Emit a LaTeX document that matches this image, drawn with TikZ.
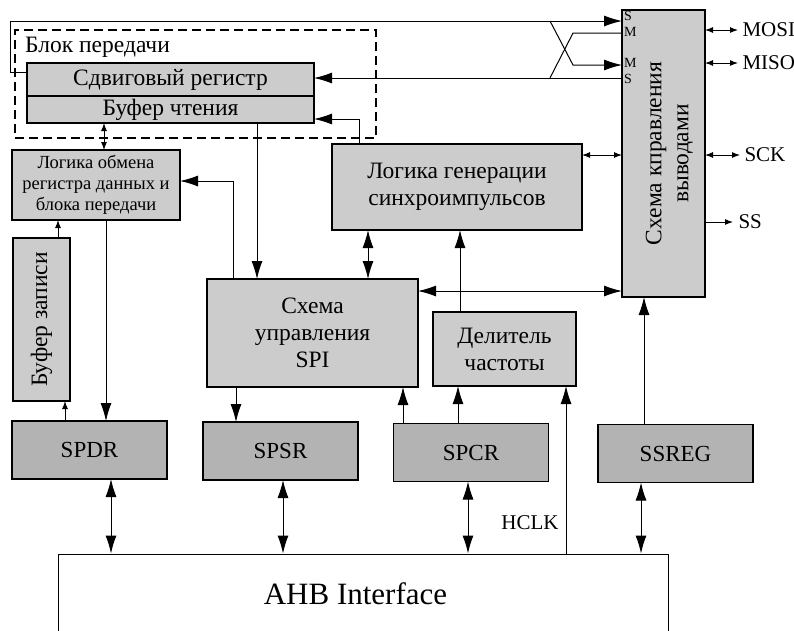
\documentclass[tikz,border=0pt]{standalone}
\usepackage{fontspec}
\setmainfont{Liberation Serif}
\usetikzlibrary{arrows.meta}

\definecolor{boxgray}{RGB}{204,204,204}
\definecolor{reggray}{RGB}{179,179,179}

\tikzstyle{block} = [rectangle, draw=black, fill=boxgray, line width=1.2pt, inner sep=0pt, outer sep=0pt, align=center, font=\fontsize{23.5}{27}\selectfont]
\tikzstyle{reg} = [block, fill=reggray, minimum width=155pt, minimum height=58pt, font=\fontsize{23}{26}\selectfont]
\tikzstyle{frame} = [rectangle, draw=black, line width=2pt, dash pattern=on 9pt off 5pt, minimum width=361pt, minimum height=108pt]
\tikzstyle{wire} = [line width=1pt]
\tikzstyle{arrow} = [line width=1pt, -{Latex[length=18pt,width=11pt]}]
\tikzstyle{biarrow} = [line width=1pt, {Latex[length=18pt,width=11pt]}-{Latex[length=18pt,width=11pt]}]
\tikzstyle{sarrow} = [line width=1pt, -{Latex[length=8pt,width=6pt]}]
\tikzstyle{sbiarrow} = [line width=1pt, {Latex[length=8pt,width=6pt]}-{Latex[length=8pt,width=6pt]}]
\tikzstyle{port} = [inner sep=0pt, font=\fontsize{21}{24}\selectfont]
\tikzstyle{pinlbl} = [inner sep=0pt, anchor=west, font=\fontsize{14}{14}\selectfont]

\begin{document}
\begin{tikzpicture}[x=1pt,y=-1pt]
    \useasboundingbox (0,0) rectangle (794,630);

    % Блок передачи
    \node (txblock) [frame] at (195.5,84) {};
    \node (txlabel) [port, anchor=west, font=\fontsize{23.5}{27}\selectfont] at (25,47) {Блок передачи};
    \node (shift) [block, minimum width=287pt, minimum height=33pt] at (170.5,79.5) {Сдвиговый регистр};
    \node (rbuf) [block, minimum width=287pt, minimum height=27pt] at (170.5,109.5) {Буфер чтения};

    \node (xlogic) [block, minimum width=168pt, minimum height=70pt, font=\fontsize{18.5}{21}\selectfont] at (96,185) {Логика обмена\\регистра данных и\\блока передачи};
    \node (wbuf) [block, minimum width=57pt, minimum height=163pt] at (41.5,319.5) {\rotatebox{90}{Буфер записи}};
    \node (clkgen) [block, minimum width=250pt, minimum height=86pt] at (457,187) {Логика генерации\\синхроимпульсов};
    \node (spictl) [block, minimum width=211pt, minimum height=108pt] at (312.5,333) {Схема\\управления\\SPI};
    \node (div) [block, minimum width=143pt, minimum height=74pt] at (504.5,349) {Делитель\\частоты};
    \node (pins) [block, minimum width=83pt, minimum height=287pt] at (663.5,153.5)
        {\hspace*{12pt}\rotatebox{90}{\begin{tabular}{@{}c@{}}Схема кправления\\выводами\end{tabular}}};

    \node (sa) [pinlbl] at (624,16) {S};
    \node (ma) [pinlbl] at (624,32) {M};
    \node (mb) [pinlbl] at (624,63) {M};
    \node (sb) [pinlbl] at (624,79) {S};

    % Регистры
    \node (spdr) [reg] at (89.5,450) {SPDR};
    \node (spsr) [reg] at (280.5,451) {SPSR};
    \node (spcr) [reg] at (471,452.5) {SPCR};
    \node (ssreg) [reg] at (675.5,453.5) {SSREG};
    \node (ahb) [draw, fill=white, line width=1pt, inner sep=0pt, minimum width=610pt, minimum height=80pt, font=\fontsize{31}{36}\selectfont] at (363,594) {AHB Interface\hspace*{15pt}};

    % Стрелки
    \draw [arrow] ([yshift=7.5pt]shift.west) -- ++(-17,0) |- ([yshift=132.5pt]pins.west);
    \draw [arrow] ([xshift=-72pt,yshift=132.5pt]pins.west) -- ([xshift=-49pt,yshift=88.5pt]pins.west) -- ([yshift=88.5pt]pins.west);
    \draw [wire] ([yshift=120.5pt]pins.west) -- ++(-49,0) -- ([xshift=-72pt,yshift=75.5pt]pins.west);
    \draw [arrow] ([yshift=75.5pt]pins.west) -- ([yshift=75.5pt]pins.west -| shift.east);

    \draw [arrow] ([xshift=-98pt]clkgen.north) |- ([yshift=-9.5pt]rbuf.east);
    \draw [sbiarrow] ([xshift=8pt]xlogic.north |- rbuf.south) -- ([xshift=8pt]xlogic.north);
    \draw [arrow] ([xshift=-55.5pt]spictl.north |- rbuf.south) -- ([xshift=-55.5pt]spictl.north);
    \draw [arrow] ([xshift=-79.5pt]spictl.north) |- ([yshift=4pt]xlogic.east);
    \draw [biarrow] ([xshift=-89pt]clkgen.south) -- ([xshift=-89pt]clkgen.south |- spictl.north);
    \draw [sbiarrow] ([yshift=32pt]clkgen.east) -- ([yshift=32pt]clkgen.east -| pins.west);
    \draw [arrow] ([xshift=-44.5pt]div.north) -- ([xshift=-44.5pt]div.north |- clkgen.south);
    \draw [biarrow] ([yshift=42pt]spictl.east) -- ([yshift=42pt]spictl.east -| pins.west);

    \draw [sarrow] ([xshift=16.5pt]wbuf.north) -- ([xshift=16.5pt]wbuf.north |- xlogic.south);
    \draw [arrow] ([xshift=10pt]xlogic.south) -- ([xshift=10pt]xlogic.south |- spdr.north);
    \draw [sarrow] ([xshift=-24.5pt]spdr.north) -- ([xshift=-24.5pt]spdr.north |- wbuf.south);
    \draw [arrow] ([xshift=-76.5pt]spictl.south) -- ([xshift=-76.5pt]spictl.south |- spsr.north);
    \draw [arrow] ([xshift=-68pt]spcr.north) -- ([xshift=-68pt]spcr.north |- spictl.south);
    \draw [arrow] ([xshift=-13pt]spcr.north) -- ([xshift=-13pt]spcr.north |- div.south);
    \draw [arrow] ([xshift=-31.5pt]ssreg.north) -- ([xshift=-31.5pt]ssreg.north |- pins.south);
    \draw [arrow] ([xshift=203pt]ahb.north) -- ([xshift=203pt]ahb.north |- div.south)
        node [port, pos=0.185, left=7pt] (hclk) {HCLK};

    \draw [biarrow] ([xshift=21.5pt]spdr.south) -- ([xshift=21.5pt]spdr.south |- ahb.north);
    \draw [biarrow] ([xshift=2.5pt]spsr.south) -- ([xshift=2.5pt]spsr.south |- ahb.north);
    \draw [biarrow] ([xshift=-3pt]spcr.south) -- ([xshift=-3pt]spcr.south |- ahb.north);
    \draw [biarrow] ([xshift=-34.5pt]ssreg.south) -- ([xshift=-34.5pt]ssreg.south |- ahb.north);

    % Выводы
    \draw [sbiarrow] ([yshift=123.5pt]pins.east) -- ++(33,0) node [port, anchor=west, xshift=4pt] (mosi) {MOSI};
    \draw [sbiarrow] ([yshift=90.5pt]pins.east) -- ++(33,0) node [port, anchor=west, xshift=4pt] (miso) {MISO};
    \draw [sbiarrow] ([yshift=-1.5pt]pins.east) -- ++(35,0) node [port, anchor=west, xshift=4pt] (sck) {SCK};
    \draw [sarrow] ([yshift=-68.5pt]pins.east) -- ++(28,0) node [port, anchor=west, xshift=5pt] (ss) {SS};

\end{tikzpicture}
\end{document}
